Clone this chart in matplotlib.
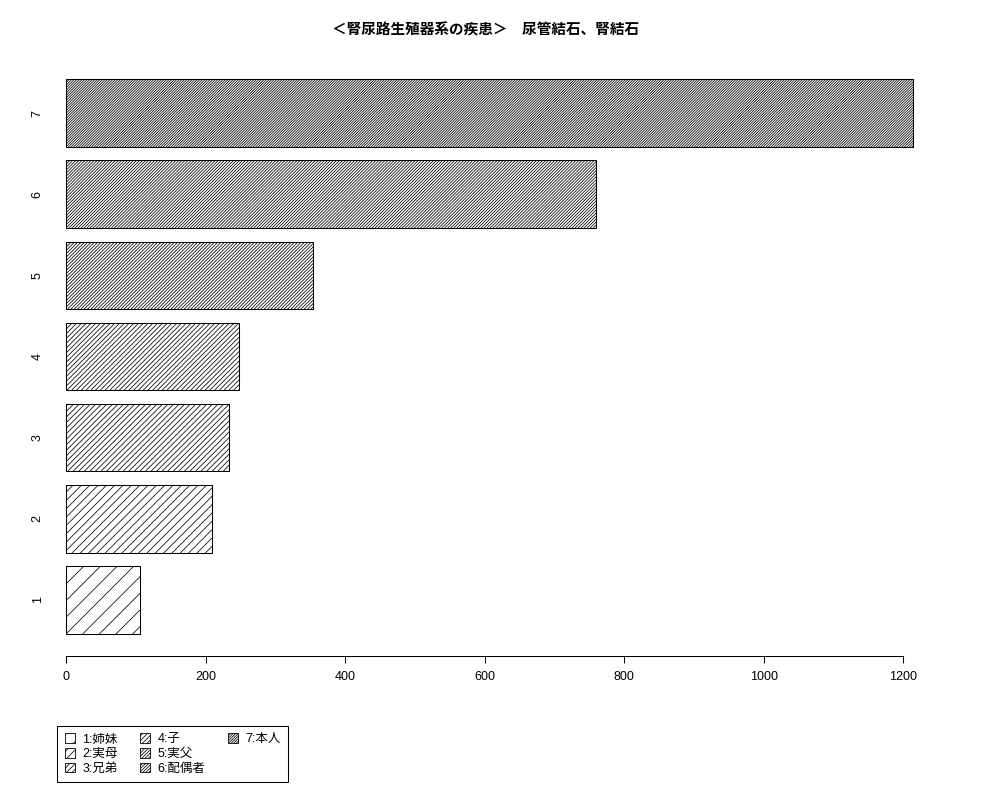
import matplotlib
matplotlib.use("Agg")
import matplotlib.pyplot as plt
import matplotlib.patches as patches

plt.rcParams["font.family"] = ["Liberation Sans", "Noto Sans CJK JP", "DejaVu Sans"]
plt.rcParams["hatch.linewidth"] = 0.55

TITLE = "＜腎尿路生殖器系の疾患＞　尿管結石、腎結石"
categories = ["1", "2", "3", "4", "5", "6", "7"]
values = [106, 209, 234, 248, 354, 760, 1214]
legend_labels = ["1:姉妹", "2:実母", "3:兄弟", "4:子", "5:実父", "6:配偶者", "7:本人"]
x_ticks = [0, 200, 400, 600, 800, 1000, 1200]
# hatch density grows with the category (R density argument)
hatch_counts = [2, 4, 6, 7, 10, 11, 13]
hatches = ["/" * n for n in hatch_counts]

fig = plt.figure(figsize=(10, 8), dpi=100)
ax = fig.add_axes([0.066, 0.18, 0.879, 0.745])

pos = list(range(1, len(categories) + 1))
bars = ax.barh(pos, values, height=1 / 1.2, color="white",
               edgecolor="black", linewidth=0.75)
for b, h in zip(bars, hatches):
    b.set_hatch(h)
    b.set_clip_on(False)

ax.set_xlim(0, 1260)
ax.set_ylim(0.31, 7.653)

for s in ["top", "right", "left"]:
    ax.spines[s].set_visible(False)
ax.spines["bottom"].set_bounds(0, 1200)
ax.spines["bottom"].set_linewidth(0.75)

ax.set_xticks(x_ticks)
ax.set_xticklabels([str(t) for t in x_ticks], fontsize=9)
ax.tick_params(axis="x", direction="out", length=5, width=0.75, pad=6)

ax.set_yticks(pos)
ax.set_yticklabels(categories, fontsize=9, rotation=90, va="center")
ax.tick_params(axis="y", length=0, pad=16)

fig.text(0.486, 0.9625, TITLE, ha="center", va="center",
         fontsize=10.5, fontweight="bold")

handles = [patches.Patch(facecolor="white", edgecolor="black", linewidth=0.6,
                         hatch=h, label=l)
           for h, l in zip(hatches, legend_labels)]
# two empty slots so the columns fill 3 / 3 / 1 as in R's legend
blank = patches.Patch(facecolor="none", edgecolor="none", label=" ")
handles = handles + [blank, blank]
leg = fig.legend(handles=handles, ncol=3, loc="upper left",
                 bbox_to_anchor=(0.051, 0.1005), fontsize=9,
                 handlelength=0.8, handleheight=0.8, handletextpad=0.6,
                 columnspacing=1.8, labelspacing=0.2, borderpad=0.6,
                 fancybox=False, framealpha=1)
leg.get_frame().set_edgecolor("black")
leg.get_frame().set_linewidth(0.75)

fig.savefig("out.png", dpi=100)
